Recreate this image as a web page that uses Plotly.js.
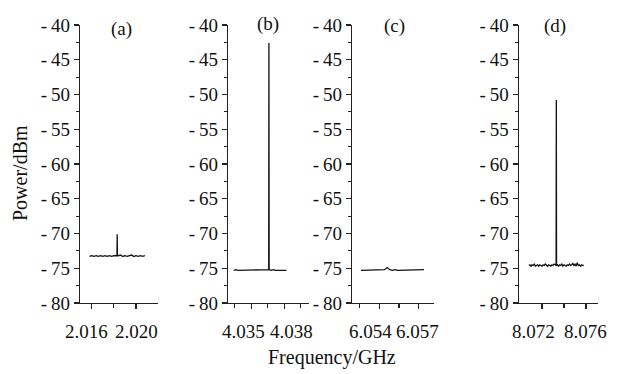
<!DOCTYPE html>
<html><head><meta charset="utf-8">
<script src="https://cdn.plot.ly/plotly-3.0.1.min.js"></script>
<style>html,body{margin:0;padding:0;background:#fff}#chart{width:618px;height:374px}</style>
</head><body><div id="chart"></div>
<script>
// Panel (a)
const freqA = [2.0158,2.0160,2.0162,2.0164,2.0166,2.0168,2.0170,2.0172,2.0174,2.0176,2.0178,2.0180,2.01828,2.0183,2.01832,2.0184,2.0186,2.0188,2.0190,2.0192,2.0194,2.0196,2.0198,2.0200,2.0202,2.0204,2.0206,2.0208];
const powA  = [-73.3,-73.2,-73.3,-73.2,-73.3,-73.2,-73.3,-73.2,-73.3,-73.2,-73.3,-73.2,-73.2,-70.1,-73.2,-73.2,-73.1,-73.3,-73.2,-73.3,-73.2,-73.1,-73.3,-73.2,-73.3,-73.2,-73.3,-73.2];
// Panel (b)
const freqB = [4.0334,4.0336,4.0338,4.0340,4.0342,4.0344,4.0346,4.0348,4.0350,4.0352,4.0354,4.0356,4.0358,4.0360,4.0362,4.0364,4.03658,4.0366,4.03662,4.0368,4.0370,4.0372,4.0374,4.0376,4.0378,4.0380,4.0382];
const powB  = [-75.3,-75.2,-75.3,-75.3,-75.2,-75.3,-75.2,-75.3,-75.3,-75.2,-75.3,-75.2,-75.3,-75.2,-75.3,-75.2,-75.2,-42.6,-75.2,-75.3,-75.2,-75.3,-75.3,-75.2,-75.3,-75.2,-75.3];
// Panel (c)
const freqC = [6.0526,6.0528,6.0530,6.0532,6.0534,6.0536,6.0538,6.0540,6.0542,6.0544,6.0546,6.0548,6.0550,6.0552,6.0554,6.0556,6.0558,6.0560,6.0562,6.0564,6.0566,6.0568,6.0570,6.0572,6.0574];
const powC  = [-75.3,-75.3,-75.2,-75.3,-75.3,-75.2,-75.3,-75.2,-75.3,-75.2,-74.9,-75.2,-75.3,-75.2,-75.3,-75.3,-75.2,-75.3,-75.2,-75.3,-75.3,-75.2,-75.3,-75.3,-75.2];
// Panel (d)
const freqD = [8.0708,8.0709,8.0710,8.0711,8.0712,8.0713,8.0714,8.0715,8.0716,8.0717,8.0718,8.0719,8.0720,8.0721,8.0722,8.0723,8.0724,8.0725,8.0726,8.0727,8.0728,8.0729,8.0730,8.0731,8.0732,8.07328,8.0733,8.07332,8.0734,8.0735,8.0736,8.0737,8.0738,8.0739,8.0740,8.0741,8.0742,8.0743,8.0744,8.0745,8.0746,8.0747,8.0748,8.0749,8.0750,8.0751,8.0752,8.0753,8.0754,8.0755,8.0756,8.0757,8.0758];
const powD  = [-74.6,-74.5,-74.7,-74.5,-74.6,-74.4,-74.7,-74.6,-74.5,-74.7,-74.5,-74.6,-74.7,-74.5,-74.6,-74.4,-74.6,-74.7,-74.5,-74.6,-74.7,-74.5,-74.6,-74.4,-74.6,-74.6,-50.8,-74.6,-74.5,-74.7,-74.5,-74.6,-74.4,-74.7,-74.5,-74.6,-74.7,-74.5,-74.6,-74.4,-74.6,-74.5,-74.3,-74.6,-74.4,-74.7,-74.2,-74.6,-74.5,-74.7,-74.5,-74.6,-74.6];

// Tick values / labels
const yTickVals = [-80,-75,-70,-65,-60,-55,-50,-45,-40];
const yTickText = ["-\u200980","-\u200975","-\u200970","-\u200965","-\u200960","-\u200955","-\u200950","-\u200945","-\u200940"];
const yMinorVals = [-77.5,-72.5,-67.5,-62.5,-57.5,-52.5,-47.5,-42.5];
const xTickValsA = [2.016,2.020], xTickTextA = ["2.016","2.020"], xMinorA = [2.018];
const xTickValsB = [4.035,4.038], xTickTextB = ["4.035","4.038"], xMinorB = [4.0335,4.0365,4.0395];
const xTickValsC = [6.054,6.057], xTickTextC = ["6.054","6.057"], xMinorC = [6.0525,6.0555];
const xTickValsD = [8.072,8.076], xTickTextD = ["8.072","8.076"], xMinorD = [8.074];
const panelLabels = ["(a)","(b)","(c)","(d)"];

const W = 618, H = 374;
const FONT = "Liberation Serif";
const line = {color:"#111", width:1.3};
const traces = [
  {x:freqA, y:powA, xaxis:"x", yaxis:"y"},
  {x:freqB, y:powB, xaxis:"x2", yaxis:"y2"},
  {x:freqC, y:powC, xaxis:"x3", yaxis:"y3"},
  {x:freqD, y:powD, xaxis:"x4", yaxis:"y4"}
].map(t => Object.assign(t, {type:"scatter", mode:"lines", line:line, hoverinfo:"skip"}));

const yDom = [(H-303)/H, (H-25)/H];
function xAx(dom, range, tv, mv, yname){
  return {domain:[dom[0]/W, dom[1]/W], range:range, anchor:yname,
    tickmode:"array", tickvals:tv, showticklabels:false, ticks:"outside", ticklen:5, tickwidth:1.2, tickcolor:"#222",
    minor:{tickmode:"array", tickvals:mv, ticks:"outside", ticklen:4, tickwidth:1.2, tickcolor:"#222", showgrid:false},
    automargin:false, showline:true, linecolor:"#222", linewidth:1.2, showgrid:false, zeroline:false, fixedrange:true};
}
function yAx(xname){
  return {domain:yDom, range:[-80,-40], anchor:xname,
    tickmode:"array", tickvals:yTickVals, ticktext:yTickText, ticks:"outside", ticklen:5, tickwidth:1.2, tickcolor:"#222",
    minor:{tickmode:"array", tickvals:yMinorVals, ticks:"outside", ticklen:3, tickwidth:1.2, tickcolor:"#222", showgrid:false},
    showline:true, linecolor:"#222", linewidth:1.2, showgrid:false, zeroline:false, automargin:false,
    tickfont:{family:FONT, size:19, color:"#111"}, fixedrange:true};
}

const annotations = [];
// x tick labels, placed on the axis scale at their tick values; crowded pairs nudged apart as in the reference
const xLabelSets = [
  ["x", xTickValsA, xTickTextA, [-5, 0]],
  ["x2", xTickValsB, xTickTextB, [-8, 7]],
  ["x3", xTickValsC, xTickTextC, [-9, -1]],
  ["x4", xTickValsD, xTickTextD, [-9, -1]]
];
xLabelSets.forEach(([ax, vals, texts, shifts]) => {
  vals.forEach((v, i) => annotations.push({text:texts[i], xref:ax, yref:"paper", x:v, y:1-331/H,
    xshift:shifts[i], xanchor:"center", yanchor:"middle", showarrow:false,
    font:{family:FONT, size:19, color:"#111"}}));
});
const labelPos = [[121,29],[268,24],[394,26],[555,26]];
panelLabels.forEach((t,i)=>annotations.push({text:t, xref:"paper", yref:"paper",
  x:labelPos[i][0]/W, y:1-labelPos[i][1]/H, xanchor:"center", yanchor:"middle", showarrow:false,
  font:{family:FONT, size:19, color:"#111"}}));
annotations.push({text:"Frequency/GHz", xref:"paper", yref:"paper", x:332/W, y:1-357/H,
  xanchor:"center", yanchor:"middle", showarrow:false, font:{family:FONT, size:20, color:"#111"}});
annotations.push({text:"Power/dBm", xref:"paper", yref:"paper", x:20/W, y:1-173/H, textangle:-90,
  xanchor:"center", yanchor:"middle", showarrow:false, font:{family:FONT, size:20, color:"#111"}});

const layout = {
  width:W, height:H, margin:{l:0,r:0,t:0,b:0}, showlegend:false,
  paper_bgcolor:"#fff", plot_bgcolor:"#fff", font:{family:FONT, color:"#111"},
  xaxis: xAx([80,157.7],[2.01494,2.02196],xTickValsA,xMinorA,"y"),
  xaxis2:xAx([228,309.3],[4.03288,4.04027],xTickValsB,xMinorB,"y2"),
  xaxis3:xAx([352,434.3],[6.05192,6.05819],xTickValsC,xMinorC,"y3"),
  xaxis4:xAx([518.7,598],[8.06988,8.07709],xTickValsD,xMinorD,"y4"),
  yaxis: yAx("x"), yaxis2:yAx("x2"), yaxis3:yAx("x3"), yaxis4:yAx("x4"),
  annotations:annotations
};
Plotly.newPlot("chart", traces, layout, {staticPlot:true, displayModeBar:false});
</script></body></html>
